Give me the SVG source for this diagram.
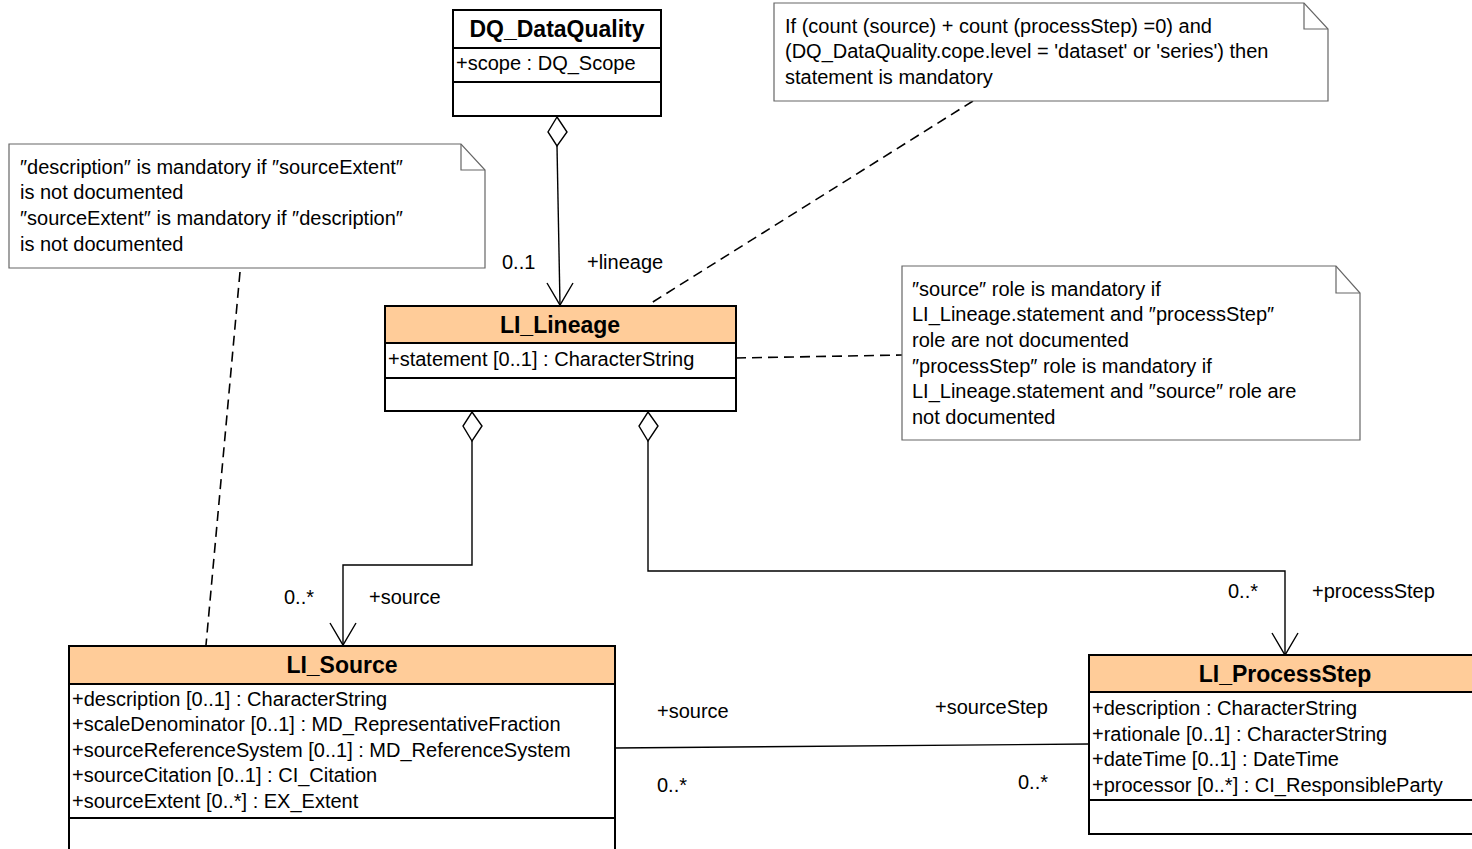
<svg xmlns="http://www.w3.org/2000/svg" width="1472" height="849" viewBox="0 0 1472 849">
<style>
text{font-family:"Liberation Sans","Noto Sans CJK JP",sans-serif;font-size:20px;fill:#000}
.t{font-weight:bold;font-size:23px;text-anchor:middle}
.box{fill:#fff;stroke:#000;stroke-width:2}
.hdr{fill:#FFCC99;stroke:#000;stroke-width:2}
.sep{stroke:#000;stroke-width:2}
.note{fill:#fff;stroke:#666;stroke-width:1.2}
.fold{fill:none;stroke:#666;stroke-width:1.2}
.ln{fill:none;stroke:#000;stroke-width:1.4}
.dash{fill:none;stroke:#000;stroke-width:1.6;stroke-dasharray:10,6}
.dia{fill:#fff;stroke:#000;stroke-width:1.4}
</style>
<rect width="1472" height="849" fill="#fff"/>
<g id="connectors">
<line class="dash" x1="240" y1="272" x2="206" y2="645"/>
<line class="dash" x1="973" y1="101" x2="648" y2="305"/>
<line class="dash" x1="736" y1="358" x2="902" y2="355"/>
<polyline class="ln" points="557,146 560,305"/>
<polygon class="dia" points="557,117 567,132 557,146 548,132"/>
<polyline class="ln" points="547,283 560,305 573,283"/>
<polyline class="ln" points="472,441 472,565 343,565 343,645"/>
<polygon class="dia" points="472,412 482,426 472,441 463,426"/>
<polyline class="ln" points="330,623 343,645 356,623"/>
<polyline class="ln" points="648,441 648,571 1285,571 1285,655"/>
<polygon class="dia" points="648,412 658,426 648,441 639,426"/>
<polyline class="ln" points="1272,633 1285,655 1298,633"/>
<line class="ln" x1="615" y1="748" x2="1089" y2="744"/>
<text x="502" y="269">0..1</text>
<text x="587" y="269">+lineage</text>
<text x="284" y="604">0..*</text>
<text x="369" y="604">+source</text>
<text x="1228" y="598">0..*</text>
<text x="1312" y="598">+processStep</text>
<text x="657" y="718">+source</text>
<text x="935" y="714">+sourceStep</text>
<text x="657" y="792">0..*</text>
<text x="1018" y="789">0..*</text>
</g>
<g id="note1">
<polygon class="note" points="9,144 461,144 485,170 485,268 9,268"/>
<polyline class="fold" points="461,144 461,170 485,170"/>
<text x="20" y="174">″description″ is mandatory if ″sourceExtent″</text>
<text x="20" y="199">is not documented</text>
<text x="20" y="225">″sourceExtent″ is mandatory if ″description″</text>
<text x="20" y="251">is not documented</text>
</g>
<g id="note2">
<polygon class="note" points="774,3 1304,3 1328,29 1328,101 774,101"/>
<polyline class="fold" points="1304,3 1304,29 1328,29"/>
<text x="785" y="33">If (count (source) + count (processStep) =0) and</text>
<text x="785" y="58">(DQ_DataQuality.cope.level = 'dataset' or 'series') then</text>
<text x="785" y="84">statement is mandatory</text>
</g>
<g id="note3">
<polygon class="note" points="902,266 1336,266 1360,293 1360,440 902,440"/>
<polyline class="fold" points="1336,266 1336,293 1360,293"/>
<text x="912" y="296">″source″ role is mandatory if</text>
<text x="912" y="321">LI_Lineage.statement and ″processStep″</text>
<text x="912" y="347">role are not documented</text>
<text x="912" y="373">″processStep″ role is mandatory if</text>
<text x="912" y="398">LI_Lineage.statement and ″source″ role are</text>
<text x="912" y="424">not documented</text>
</g>
<g id="DQ_DataQuality">
<rect class="box" x="453" y="10" width="208" height="106"/>
<line class="sep" x1="453" y1="48" x2="661" y2="48"/>
<line class="sep" x1="453" y1="82" x2="661" y2="82"/>
<text class="t" x="557" y="37">DQ_DataQuality</text>
<text x="456" y="70">+scope : DQ_Scope</text>
</g>
<g id="LI_Lineage">
<rect class="box" x="385" y="306" width="351" height="105"/>
<rect class="hdr" x="385" y="306" width="351" height="37"/>
<line class="sep" x1="385" y1="378" x2="736" y2="378"/>
<text class="t" x="560" y="333">LI_Lineage</text>
<text x="388" y="366">+statement [0..1] : CharacterString</text>
</g>
<g id="LI_Source">
<rect class="box" x="69" y="646" width="546" height="220"/>
<rect class="hdr" x="69" y="646" width="546" height="38"/>
<line class="sep" x1="69" y1="818" x2="615" y2="818"/>
<text class="t" x="342" y="673">LI_Source</text>
<text x="72" y="706">+description [0..1] : CharacterString</text>
<text x="72" y="731">+scaleDenominator [0..1] : MD_RepresentativeFraction</text>
<text x="72" y="757">+sourceReferenceSystem [0..1] : MD_ReferenceSystem</text>
<text x="72" y="782">+sourceCitation [0..1] : CI_Citation</text>
<text x="72" y="808">+sourceExtent [0..*] : EX_Extent</text>
</g>
<g id="LI_ProcessStep">
<rect class="box" x="1089" y="655" width="400" height="179"/>
<rect class="hdr" x="1089" y="655" width="400" height="37"/>
<line class="sep" x1="1089" y1="800" x2="1489" y2="800"/>
<text class="t" x="1285" y="682">LI_ProcessStep</text>
<text x="1092" y="715">+description : CharacterString</text>
<text x="1092" y="741">+rationale [0..1] : CharacterString</text>
<text x="1092" y="766">+dateTime [0..1] : DateTime</text>
<text x="1092" y="792">+processor [0..*] : CI_ResponsibleParty</text>
</g>
</svg>
